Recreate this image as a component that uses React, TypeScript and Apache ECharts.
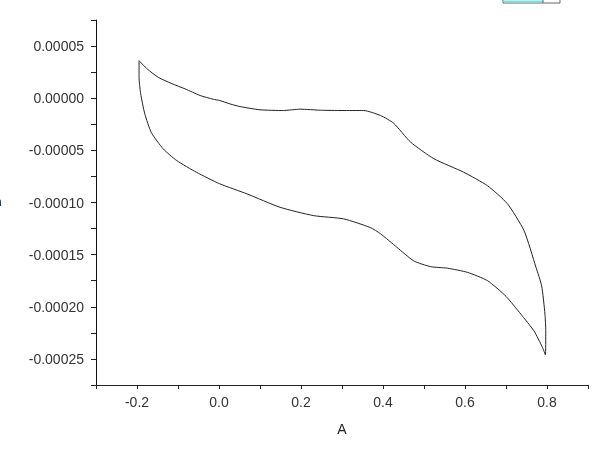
import React, { useEffect, useRef } from "react";
import * as echarts from "echarts";

// Forward scan (-0.2 V -> 0.8 V), upper branch
const forwardX = [
  -0.195, -0.175, -0.148, -0.115, -0.083, -0.046, -0.014, 0.002, 0.027, 0.051,
  0.1, 0.157, 0.198, 0.247, 0.3, 0.353, 0.394, 0.426, 0.467, 0.524, 0.597,
  0.655, 0.703, 0.744, 0.773, 0.787, 0.795, 0.797, 0.796,
];
const forwardY = [
  3.6e-5, 2.8e-5, 2.0e-5, 1.4e-5, 9.0e-6, 2.6e-6, -1.0e-6, -2.2e-6, -5.5e-6,
  -8.0e-6, -1.11e-5, -1.18e-5, -1.05e-5, -1.15e-5, -1.18e-5, -1.18e-5,
  -1.66e-5, -2.4e-5, -4.2e-5, -5.8e-5, -7.1e-5, -8.4e-5, -1.01e-4, -1.27e-4,
  -1.62e-4, -1.8e-4, -2.07e-4, -2.23e-4, -2.46e-4,
];
// Reverse scan (0.8 V -> -0.2 V), lower branch
const reverseX = [
  0.789, 0.768, 0.736, 0.7, 0.655, 0.606, 0.557, 0.516, 0.475, 0.434, 0.394,
  0.369, 0.304, 0.231, 0.149, 0.068, 0.002, -0.055, -0.103, -0.136, -0.165,
  -0.181, -0.191, -0.195, -0.195,
];
const reverseY = [
  -2.39e-4, -2.23e-4, -2.07e-4, -1.9e-4, -1.75e-4, -1.67e-4, -1.63e-4,
  -1.615e-4, -1.56e-4, -1.43e-4, -1.3e-4, -1.24e-4, -1.157e-4, -1.126e-4,
  -1.046e-4, -9.17e-5, -8.21e-5, -7.1e-5, -5.98e-5, -4.86e-5, -3.3e-5,
  -1.5e-5, 4.2e-6, 2.0e-5, 3.6e-5,
];

const xAxisName = "A";
const yAxisName = "B";

export default function App() {
  const ref = useRef<HTMLDivElement>(null);
  useEffect(() => {
    if (!ref.current) return;
    const chart = echarts.init(ref.current, undefined, { renderer: "svg" });
    const data: number[][] = [];
    forwardX.forEach((x, i) => data.push([x, forwardY[i]]));
    reverseX.forEach((x, i) => data.push([x, reverseY[i]]));
    const font = "'Liberation Sans', Arial, sans-serif";
    chart.setOption({
      animation: false,
      grid: {
        left: 96,
        right: 12,
        top: 20,
        bottom: 79,
        containLabel: false,
        outerBoundsMode: "none",
      },
      xAxis: {
        type: "value",
        min: -0.3,
        max: 0.9,
        interval: 0.1,
        name: xAxisName,
        nameLocation: "middle",
        nameGap: 37,
        nameTextStyle: { fontFamily: font, fontSize: 14, color: "#222" },
        axisLine: { onZero: false, lineStyle: { color: "#222", width: 1 } },
        axisTick: { inside: false, length: 4, lineStyle: { color: "#222" } },
        splitLine: { show: false },
        axisLabel: {
          fontFamily: font,
          fontSize: 14,
          color: "#333",
          margin: 10,
          showMinLabel: true,
          showMaxLabel: true,
          formatter: (v: number) => {
            const k = Math.round(v * 10);
            if (k % 2 !== 0) return "";
            const r = k / 10;
            return r === 0 ? "0.0" : r.toFixed(1);
          },
        },
      },
      yAxis: {
        type: "value",
        min: -0.000275,
        max: 0.000075,
        interval: 0.000025,
        name: yAxisName,
        nameLocation: "middle",
        nameRotate: 90,
        nameGap: 93,
        nameTextStyle: { fontFamily: font, fontSize: 14, color: "#1f3a6b" },
        axisLine: { onZero: false, lineStyle: { color: "#111", width: 1 } },
        axisTick: { inside: false, length: 5, lineStyle: { color: "#222" } },
        splitLine: { show: false },
        axisLabel: {
          fontFamily: font,
          fontSize: 14,
          color: "#333",
          margin: 12,
          showMinLabel: true,
          showMaxLabel: true,
          formatter: (v: number) => {
            const k = Math.round(v / 0.000025);
            if (k % 2 !== 0) return "";
            const r = k * 0.000025;
            if (k === 0) return "0.00000";
            return r.toFixed(5);
          },
        },
      },
      graphic: [
        {
          type: "rect",
          shape: { x: 503, y: -8, width: 57, height: 11 },
          style: { fill: "#fff", stroke: "#666", lineWidth: 1 },
        },
        {
          type: "line",
          shape: { x1: 504, y1: 1.5, x2: 543, y2: 1.5 },
          style: { stroke: "#7fe0e0", lineWidth: 2 },
        },
        {
          type: "line",
          shape: { x1: 543, y1: -8, x2: 543, y2: 3 },
          style: { stroke: "#666", lineWidth: 1 },
        },
      ],
      series: [
        {
          type: "line",
          data,
          showSymbol: false,
          smooth: 0.2,
          lineStyle: { color: "#222", width: 1 },
        },
      ],
    });
    return () => chart.dispose();
  }, []);
  return (
    <div
      ref={ref}
      style={{ position: "fixed", left: 0, top: 0, width: 600, height: 464 }}
    />
  );
}
